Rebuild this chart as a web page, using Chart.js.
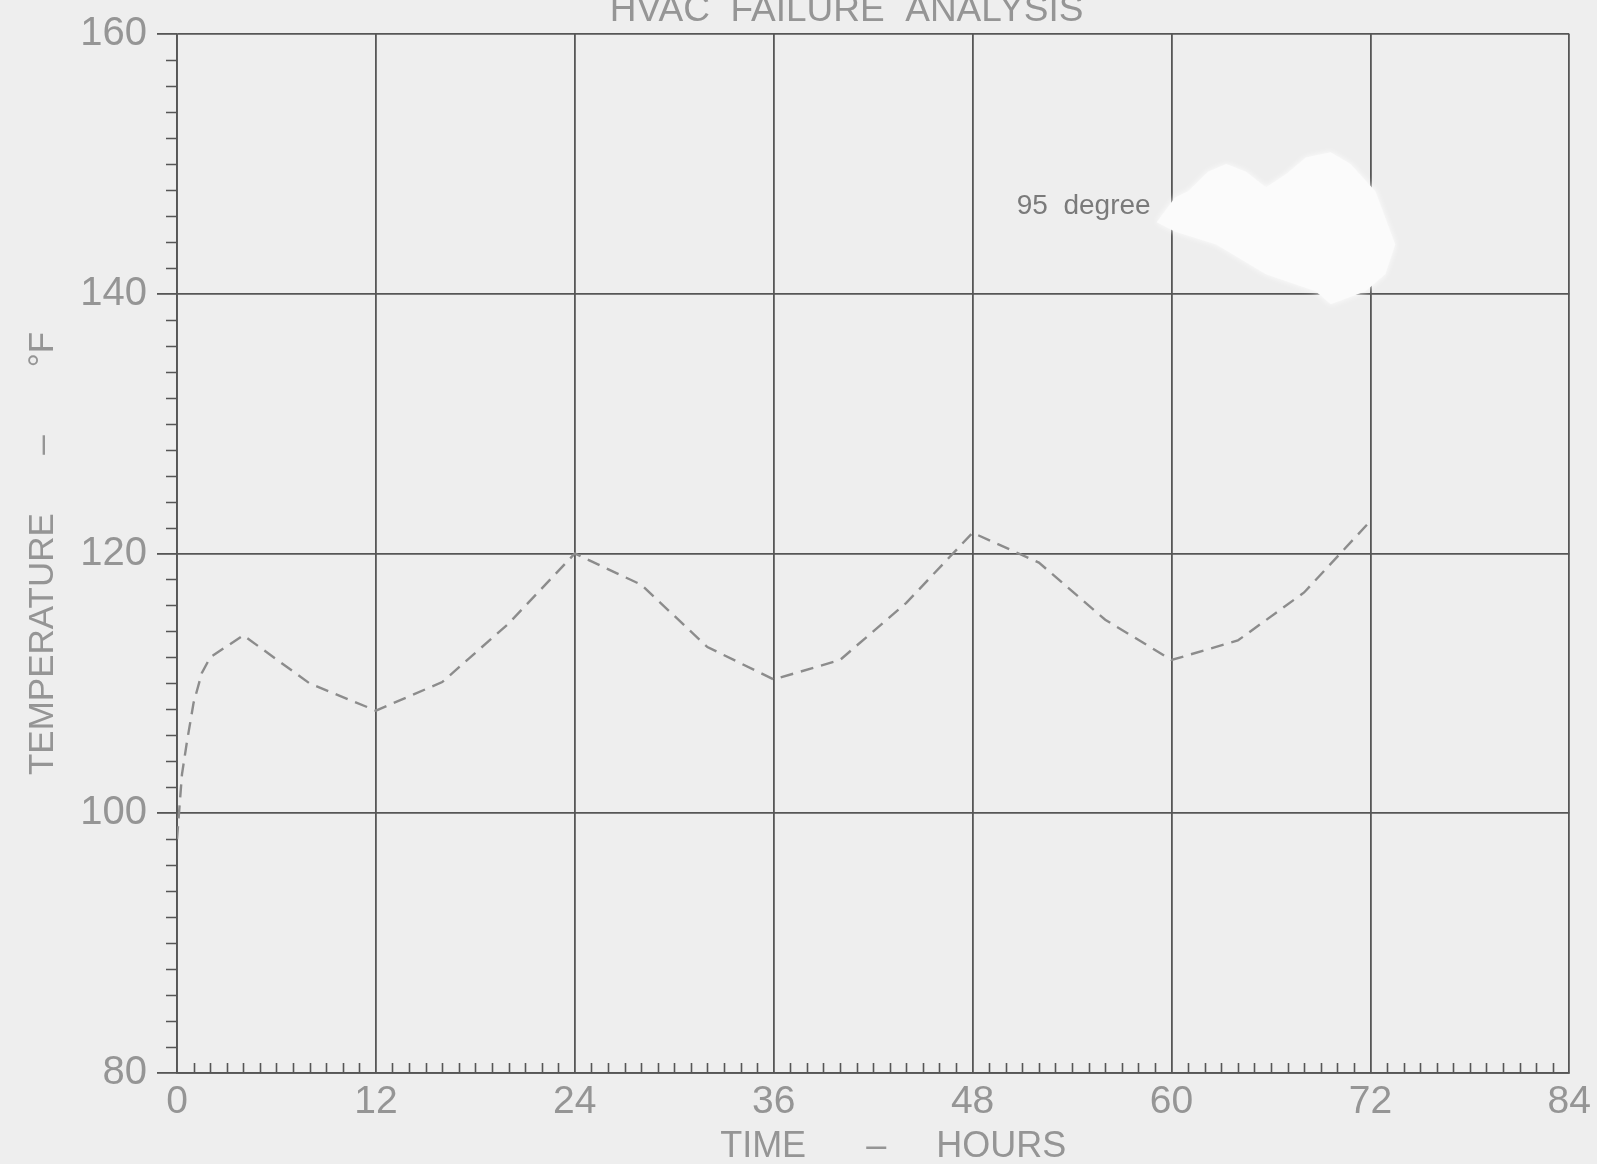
<!DOCTYPE html>
<html>
<head>
<meta charset="utf-8">
<title>HVAC Failure Analysis</title>
<script src="https://cdn.jsdelivr.net/npm/chart.js@4.4.1/dist/chart.umd.min.js"></script>
<style>
  html, body { margin: 0; padding: 0; background: #eeeeee; }
  #wrap { width: 1597px; height: 1164px; }
</style>
</head>
<body>
<div id="wrap"><canvas id="hvacChart" width="1597" height="1164"></canvas></div>
<script>
// Values
const hours = [0, 0.3, 0.6, 1, 1.5, 2, 4, 8, 12, 16, 20, 24, 28, 32, 36, 40, 44, 48, 52, 56, 60, 64, 68, 72];
const tempF = [98, 103, 105.5, 108.5, 110.8, 112, 113.7, 110, 107.9, 110.1, 114.6, 120, 117.6, 112.8, 110.3, 111.8, 116.2, 121.6, 119.3, 114.9, 111.8, 113.3, 117, 122.5];

const xTicks = [0, 12, 24, 36, 48, 60, 72, 84];
const yTicks = [80, 100, 120, 140, 160];

// white-out patch on the scan, in (hours, degF)
const patchHours = [59.1, 60.2, 61.0, 62.2, 63.3, 64.5, 65.7, 66.9, 68.1, 69.6, 70.8, 72.3, 73.5, 72.9, 71.7, 69.6, 68.7, 65.7, 62.7, 60.2];
const patchTemp  = [145.5, 147.4, 147.9, 149.4, 150.0, 149.4, 148.2, 149.2, 150.5, 150.9, 150.0, 147.9, 143.8, 141.5, 140.2, 139.2, 140.2, 141.5, 143.8, 144.8];

const gridColor = '#565656';
const textColor = '#959595';
const fontFamily = '"Liberation Sans", Arial, sans-serif';

const scanPlugin = {
    id: 'scanExtras',
    beforeDraw(chart) {
        const ctx = chart.ctx;
        ctx.save();
        ctx.fillStyle = '#eeeeee';
        ctx.fillRect(0, 0, chart.width, chart.height);
        ctx.restore();
    },
    afterDraw(chart) {
        const ctx = chart.ctx;
        const xs = chart.scales.x;
        const ys = chart.scales.y;
        const area = chart.chartArea;
        ctx.save();

        // minor ticks
        ctx.strokeStyle = gridColor;
        ctx.lineWidth = 1.6;
        ctx.beginPath();
        for (let v = 82; v < 160; v += 2) {
            if (v % 20 === 0) continue;
            const py = Math.round(ys.getPixelForValue(v)) + 0.5;
            ctx.moveTo(area.left - 11, py);
            ctx.lineTo(area.left, py);
        }
        for (let h = 1; h < 84; h++) {
            if (h % 12 === 0) continue;
            const px = Math.round(xs.getPixelForValue(h)) + 0.5;
            ctx.moveTo(px, area.bottom);
            ctx.lineTo(px, area.bottom - 10);
        }
        ctx.stroke();

        // white-out patch
        ctx.fillStyle = '#fbfbfb';
        ctx.shadowColor = 'rgba(255,255,255,0.9)';
        ctx.shadowBlur = 6;
        ctx.beginPath();
        patchHours.forEach((h, i) => {
            const px = xs.getPixelForValue(h);
            const py = ys.getPixelForValue(patchTemp[i]);
            if (i === 0) ctx.moveTo(px, py); else ctx.lineTo(px, py);
        });
        ctx.closePath();
        ctx.fill();
        ctx.shadowBlur = 0;

        // annotation
        ctx.fillStyle = '#7a7a7a';
        ctx.font = '28px ' + fontFamily;
        ctx.textAlign = 'center';
        ctx.textBaseline = 'middle';
        ctx.fillText('95  degree', xs.getPixelForValue(54.7), ys.getPixelForValue(146.7));

        // title (cut off at the top of the scan)
        ctx.fillStyle = textColor;
        ctx.font = '37px ' + fontFamily;
        ctx.textBaseline = 'alphabetic';
        ctx.fillText('HVAC  FAILURE  ANALYSIS', xs.getPixelForValue(40.4), 21);
        ctx.restore();
    }
};

new Chart(document.getElementById('hvacChart').getContext('2d'), {
    type: 'line',
    data: {
        datasets: [{
            data: hours.map((h, i) => ({ x: h, y: tempF[i] })),
            borderColor: '#8c8c8c',
            borderWidth: 2.4,
            borderDash: [13, 8],
            pointRadius: 0,
            tension: 0,
            fill: false
        }]
    },
    options: {
        responsive: false,
        animation: false,
        layout: { padding: { top: 29, right: 26, left: 0, bottom: 0 } },
        plugins: {
            legend: { display: false },
            tooltip: { enabled: false }
        },
        scales: {
            x: {
                type: 'linear',
                min: 0,
                max: 84,
                afterBuildTicks: scale => { scale.ticks = xTicks.map(v => ({ value: v })); },
                afterFit: scale => { scale.height = 91; },
                grid: { color: gridColor, lineWidth: 1.8, drawTicks: false },
                border: { color: gridColor, width: 1.8 },
                ticks: {
                    color: textColor,
                    padding: 6,
                    maxRotation: 0,
                    font: { family: fontFamily, size: 39 }
                },
                title: {
                    display: true,
                    text: '    TIME      –     HOURS',
                    color: textColor,
                    padding: { top: 0, bottom: 0 },
                    font: { family: fontFamily, size: 36, lineHeight: 0.95 }
                }
            },
            y: {
                type: 'linear',
                min: 80,
                max: 160,
                afterBuildTicks: scale => { scale.ticks = yTicks.map(v => ({ value: v })); },
                afterFit: scale => { scale.width = 177; },
                grid: { color: gridColor, lineWidth: 1.8, tickLength: 20, tickColor: gridColor },
                border: { color: gridColor, width: 1.8 },
                ticks: {
                    color: textColor,
                    padding: 10,
                    font: { family: fontFamily, size: 40 }
                },
                title: {
                    display: true,
                    text: 'TEMPERATURE      –       °F',
                    color: textColor,
                    padding: { top: 22, bottom: 0 },
                    font: { family: fontFamily, size: 35 }
                }
            }
        }
    },
    plugins: [scanPlugin]
});
</script>
</body>
</html>
